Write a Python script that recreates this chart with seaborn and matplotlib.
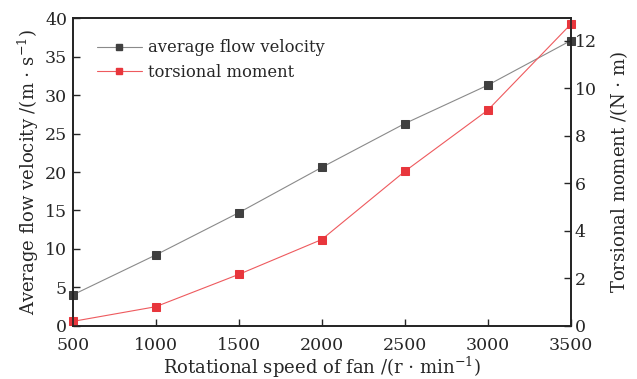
import matplotlib
matplotlib.use("Agg")
import matplotlib.pyplot as plt
import seaborn as sns
import pandas as pd
from matplotlib.lines import Line2D

speed = [500, 1000, 1500, 2000, 2500, 3000, 3500]
velocity = [4.0, 9.2, 14.7, 20.6, 26.3, 31.3, 37.1]
torque = [0.18, 0.8, 2.16, 3.63, 6.5, 9.08, 12.7]
x_ticks = [500, 1000, 1500, 2000, 2500, 3000, 3500]
y_ticks = [0, 5, 10, 15, 20, 25, 30, 35, 40]
y2_ticks = [0, 2, 4, 6, 8, 10, 12]

sns.set_style("ticks")
plt.rcParams['font.family'] = ['DejaVu Serif']
plt.rcParams['mathtext.fontset'] = 'dejavuserif'

df = pd.DataFrame({"speed": speed, "velocity": velocity, "torque": torque})

fig = plt.figure(figsize=(6.37, 3.79), dpi=100)
ax = fig.add_axes([0.114, 0.1406, 0.782, 0.811])
ax2 = ax.twinx()

gray_m = "#404040"
gray_l = "#8a8a8a"
red = "#e8363c"
red_l = "#ee5a5e"

sns.lineplot(data=df, x="speed", y="velocity", ax=ax, color=gray_l, lw=0.8,
             marker="s", markersize=6, markerfacecolor=gray_m, markeredgecolor=gray_m,
             clip_on=False)
sns.lineplot(data=df, x="speed", y="torque", ax=ax2, color=red_l, lw=0.8,
             marker="s", markersize=6, markerfacecolor=red, markeredgecolor=red,
             clip_on=False)

ax.set_xlim(500, 3500)
ax.set_ylim(0, 40)
ax2.set_ylim(0, 12.95)
ax.set_xticks(x_ticks)
ax.set_yticks(y_ticks)
ax2.set_yticks(y2_ticks)

fs = 12.5
for a in (ax, ax2):
    for s in a.spines.values():
        s.set_linewidth(1.2)
        s.set_color("#222222")
ax.tick_params(axis="y", direction="in", length=5, width=1, labelsize=fs, pad=4)
ax.tick_params(axis="x", direction="in", length=5, width=1, labelsize=fs, pad=8)
ax2.tick_params(axis="y", direction="in", length=5, width=1, labelsize=fs, pad=3)

ax.set_xlabel(r"Rotational speed of fan /(r $\cdot$ min$^{-1}$)", fontsize=13, labelpad=1)
ax.set_ylabel(r"Average flow velocity /(m $\cdot$ s$^{-1}$)", fontsize=13, labelpad=3)
ax2.set_ylabel(r"Torsional moment /(N $\cdot$ m)", fontsize=13, labelpad=8)

handles = [
    Line2D([], [], color=gray_l, lw=0.8, marker="s", markersize=4.5,
           markerfacecolor=gray_m, markeredgecolor=gray_m),
    Line2D([], [], color=red_l, lw=0.8, marker="s", markersize=4.5,
           markerfacecolor=red, markeredgecolor=red),
]
ax.legend(handles, ["average flow velocity", "torsional moment"], loc="upper left",
          frameon=False, fontsize=11.8, handlelength=2.8, borderaxespad=0.0,
          labelspacing=0.45, handletextpad=0.35, borderpad=0.0,
          bbox_to_anchor=(0.048, 0.932))

fig.savefig("out.png", dpi=100)
